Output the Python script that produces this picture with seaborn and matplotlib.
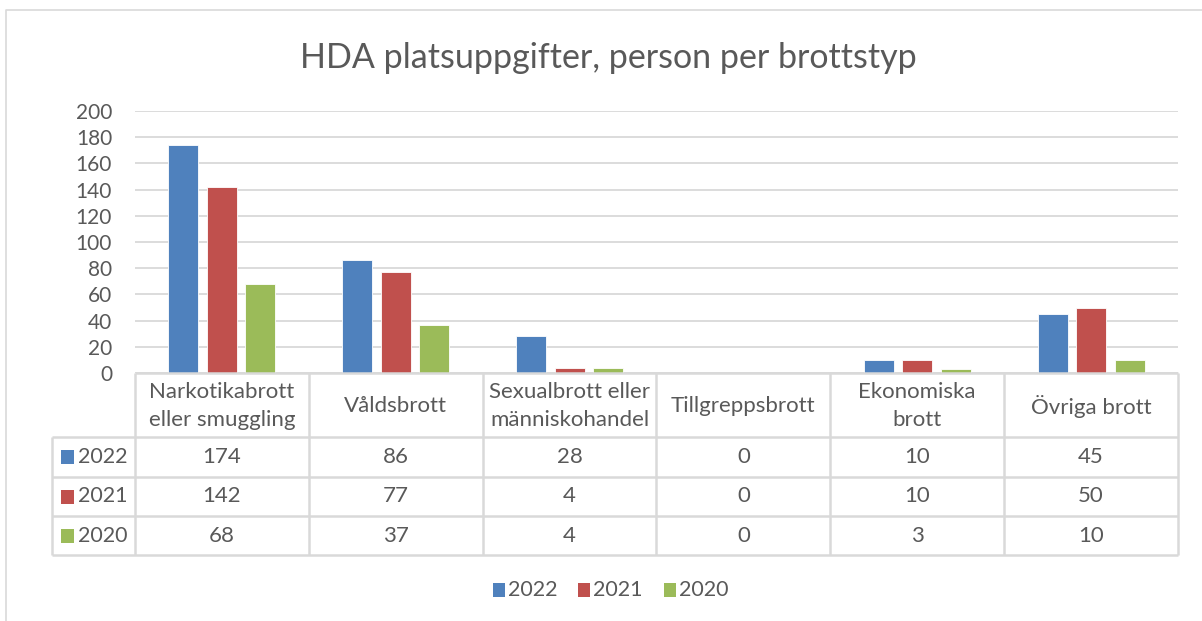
import matplotlib
matplotlib.use("Agg")
import matplotlib.pyplot as plt
import matplotlib.transforms as mtransforms
from matplotlib.lines import Line2D
from matplotlib.patches import Rectangle
import pandas as pd
import seaborn as sns

# Data
categories = ["Narkotikabrott\neller smuggling", "Våldsbrott", "Sexualbrott eller\nmänniskohandel",
              "Tillgreppsbrott", "Ekonomiska\nbrott", "Övriga brott"]
years = ["2022", "2021", "2020"]
values_2022 = [174, 86, 28, 0, 10, 45]
values_2021 = [142, 77, 4, 0, 10, 50]
values_2020 = [68, 37, 4, 0, 3, 10]
colors = ["#4F81BD", "#C0504D", "#9BBB59"]
yticks = list(range(0, 201, 20))

TEXT = "#595959"
GRID = "#D9D9D9"
W, H = 1202, 621

sns.set_style("white")
plt.rcParams["font.family"] = ["Lato", "DejaVu Sans"]

series = {"2022": values_2022, "2021": values_2021, "2020": values_2020}
df = pd.DataFrame([
    {"category": c, "year": y, "value": v}
    for y in years for c, v in zip(categories, series[y])
])


def fx(px):
    return px / W


def fy(py):
    return 1 - py / H


fig = plt.figure(figsize=(W / 100, H / 100), dpi=100)
ax = fig.add_axes([fx(135), fy(373), fx(1178) - fx(135), fy(111) - fy(373)])

sns.barplot(data=df, x="category", y="value", hue="year", hue_order=years,
            order=categories, palette=colors, saturation=1, width=0.665, gap=0.22,
            edgecolor="white", linewidth=0.6, legend=False, ax=ax)

ax.set_xlim(-0.5, len(categories) - 0.5)
ax.set_ylim(0, 200)
ax.set_yticks(yticks)
ax.set_yticklabels([str(t) for t in yticks])
ax.tick_params(axis="y", length=0, pad=16.5, labelsize=15, labelcolor=TEXT)
ax.tick_params(axis="x", length=0, labelbottom=False)
ax.set_xlabel("")
ax.set_ylabel("")
for s in ax.spines.values():
    s.set_visible(False)
ax.set_axisbelow(True)
ax.yaxis.grid(True, color=GRID, lw=1.3)

fig.text(0.506, fy(58), "HDA platsuppgifter, person per brottstyp", ha="center", va="center",
         fontsize=24.5, color=TEXT)

# data table under the plot
bt = mtransforms.blended_transform_factory(ax.transData, fig.transFigure)
row_y = [373, 437, 477, 516, 555]
lkw = dict(color=GRID, lw=1.8, solid_capstyle="butt")
n = len(categories)
fig.add_artist(Line2D([fx(135), fx(1178)], [fy(373)] * 2, transform=fig.transFigure, **lkw))
for py in row_y[1:]:
    fig.add_artist(Line2D([fx(52), fx(1178)], [fy(py)] * 2, transform=fig.transFigure, **lkw))
fig.add_artist(Line2D([fx(52)] * 2, [fy(437), fy(555)], transform=fig.transFigure, **lkw))
for i in range(n + 1):
    fig.add_artist(Line2D([i - 0.5] * 2, [fy(373), fy(555)], transform=bt, **lkw))

for i, c in enumerate(categories):
    fig.text(i, fy(406), c, transform=bt, ha="center", va="center", fontsize=16,
             color=TEXT, linespacing=1.55)

for r, y in enumerate(years):
    cy = (row_y[r + 1] + row_y[r + 2]) / 2
    fig.add_artist(Rectangle((fx(61), fy(cy + 7)), fx(13), 14 / H,
                             transform=fig.transFigure, color=colors[r], lw=0))
    fig.text(fx(78), fy(cy), y, ha="left", va="center", fontsize=15.5, color=TEXT)
    for i, v in enumerate(series[y]):
        fig.text(i, fy(cy), str(v), transform=bt, ha="center", va="center",
                 fontsize=16, color=TEXT)

# legend at the bottom
lx = [493, 578, 664]
for x0, y, col in zip(lx, years, colors):
    fig.add_artist(Rectangle((fx(x0), fy(597)), fx(12), 14 / H,
                             transform=fig.transFigure, color=col, lw=0))
    fig.text(fx(x0 + 15), fy(590), y, ha="left", va="center", fontsize=15.5, color=TEXT)

# chart area border
fig.add_artist(Line2D([fx(6), fx(6), 1.0], [0, fy(10), fy(10)],
                      transform=fig.transFigure, color=GRID, lw=1.2))

fig.savefig("out.png", dpi=100)
